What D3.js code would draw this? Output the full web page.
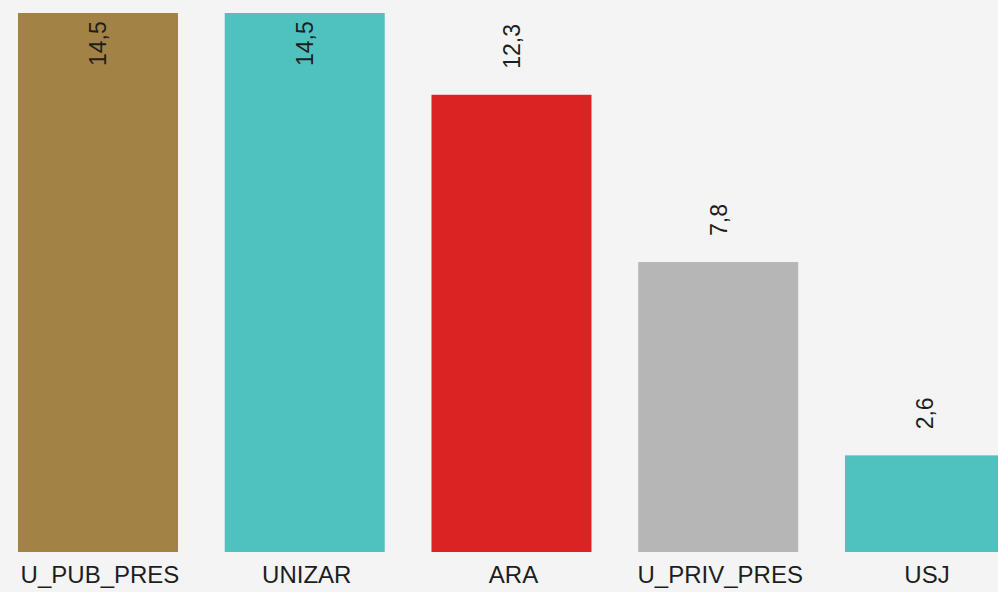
<!DOCTYPE html>
<html>
<head>
<meta charset="utf-8">
<script src="https://cdn.jsdelivr.net/npm/d3@7"></script>
<style>
  html, body { margin: 0; padding: 0; background: #f4f4f4; }
  svg { display: block; font-family: Arial, "Liberation Sans", sans-serif; }
</style>
</head>
<body>
<div id="chart"></div>
<script>
// Data
var categories = ["U_PUB_PRES", "UNIZAR", "ARA", "U_PRIV_PRES", "USJ"];
var values = [14.5, 14.5, 12.3, 7.8, 2.6];
var colors = ["#a38245", "#4fc2bf", "#dc2324", "#b6b6b6", "#4fc2bf"];

var W = 998, H = 592;
var baseY = 552, topY = 13;

var svg = d3.select("#chart").append("svg")
    .attr("width", W)
    .attr("height", H);

svg.append("rect")
    .attr("width", W).attr("height", H)
    .attr("fill", "#f4f4f4");

// band scale runs past the right edge, last bar is cut off
var step = 206.75;
var x = d3.scaleBand()
    .domain(categories)
    .range([-5.4, -5.4 + step * categories.length])
    .paddingInner(0.2261)
    .paddingOuter(0.1131);

var y = d3.scaleLinear()
    .domain([0, 14.5])
    .range([baseY, topY]);

var fmt = function (v) { return d3.format(".1f")(v).replace(".", ","); };

// Bars
svg.selectAll(".bar")
    .data(values)
    .enter().append("rect")
    .attr("class", "bar")
    .attr("x", function (d, i) { return x(categories[i]); })
    .attr("y", function (d) { return y(d); })
    .attr("width", x.bandwidth())
    .attr("height", function (d) { return baseY - y(d); })
    .attr("fill", function (d, i) { return colors[i]; });

// Value labels (rotated)
svg.selectAll(".val")
    .data(values)
    .enter().append("text")
    .attr("class", "val")
    .attr("transform", function (d, i) {
        var cx = x(categories[i]) + x.bandwidth() / 2;
        var ly = Math.max(y(d) - 26, 66);
        return "translate(" + cx + "," + ly + ") rotate(-90)";
    })
    .attr("dy", "0.36em")
    .attr("text-anchor", "start")
    .attr("font-size", "23px")
    .attr("fill", "#1e1e1e")
    .text(function (d) { return fmt(d); });

// Category axis
var xAxis = svg.append("g")
    .attr("transform", "translate(2," + baseY + ")")
    .call(d3.axisBottom(x).tickSize(0).tickPadding(14));
xAxis.select(".domain").remove();
xAxis.selectAll("text")
    .attr("font-size", "24px")
    .attr("font-family", "Arial, 'Liberation Sans', sans-serif")
    .attr("fill", "#1e1e1e");
</script>
</body>
</html>
